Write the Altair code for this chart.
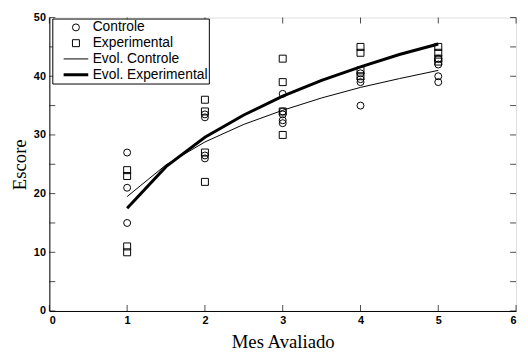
import altair as alt
import pandas as pd

# Controle (circles)
ctrl_mes = [1, 1, 1, 2, 2, 2, 2, 3, 3, 3, 3, 3, 4, 4, 4, 4, 5, 5, 5, 5]
ctrl_score = [27, 21, 15, 33.5, 33, 26.5, 26, 37, 34, 33.5, 32.5, 32,
              40.5, 39.5, 39, 35, 43, 42, 40, 39]
# Experimental (squares)
exp_mes = [1, 1, 1, 1, 2, 2, 2, 2, 3, 3, 3, 3, 4, 4, 4, 4, 5, 5, 5, 5]
exp_score = [24, 23, 11, 10, 36, 34, 27, 22, 43, 39, 34, 30,
             45, 44, 41, 40, 45, 44, 43, 42.5]
# fitted curves
curve_mes = [1, 1.5, 2, 2.5, 3, 3.5, 4, 4.5, 5]
evol_ctrl = [19.5, 24.9, 28.8, 31.8, 34.2, 36.3, 38.1, 39.6, 41.0]
evol_exp = [17.5, 24.6, 29.6, 33.4, 36.6, 39.3, 41.6, 43.7, 45.5]

x_ticks = [0, 1, 2, 3, 4, 5, 6]
y_ticks = [0, 5, 10, 15, 20, 25, 30, 35, 40, 45, 50]
series = ["Controle", "Experimental", "Evol. Controle", "Evol. Experimental"]

pts = pd.DataFrame({
    "mes": ctrl_mes + exp_mes,
    "escore": ctrl_score + exp_score,
    "serie": ["Controle"] * len(ctrl_mes) + ["Experimental"] * len(exp_mes),
})
lines = pd.DataFrame({
    "mes": curve_mes + curve_mes,
    "escore": evol_ctrl + evol_exp,
    "serie": ["Evol. Controle"] * len(curve_mes) + ["Evol. Experimental"] * len(curve_mes),
})

lab = dict(labelFont="Liberation Sans", labelFontWeight="bold", labelFontSize=11,
           labelColor="black", titleFont="Liberation Serif", titleFontWeight="normal",
           titleFontSize=19, titleColor="black", domainColor="black", ticks=False,
           grid=False, format="d")

xs = alt.X("mes:Q", scale=alt.Scale(domain=[0, 6], nice=False),
           axis=alt.Axis(values=x_ticks, title="Mes Avaliado", labelPadding=4,
                         titlePadding=7, **lab))
ys = alt.Y("escore:Q", scale=alt.Scale(domain=[0, 50], nice=False),
           axis=alt.Axis(values=y_ticks, title="Escore", labelPadding=4,
                         titlePadding=4, **lab))

shape_scale = alt.Scale(domain=series, range=["circle", "square", "stroke", "stroke"])
sw_scale = alt.Scale(type="ordinal", domain=series, range=[1, 1, 1, 3])
size_scale = alt.Scale(type="ordinal", domain=series, range=[50, 50, 625, 625])

legend = alt.Legend(title=None, orient="none", legendX=3, legendY=1,
                    strokeColor="black", fillColor="white", padding=1,
                    labelFont="Liberation Sans", labelFontSize=14, labelColor="black",
                    symbolStrokeColor="black", symbolType="circle",
                    rowPadding=0, clipHeight=16, columns=1,
                    symbolOffset=9, labelOffset=3, values=series)

points = alt.Chart(pts).mark_point(filled=False, color="black", opacity=1).encode(
    x=xs, y=ys,
    shape=alt.Shape("serie:N", scale=shape_scale, legend=legend),
    strokeWidth=alt.StrokeWidth("serie:N", scale=sw_scale, legend=legend),
    size=alt.Size("serie:N", scale=size_scale, legend=legend),
)

curves = alt.Chart(lines).mark_line(color="black").encode(
    x="mes:Q", y="escore:Q",
    strokeWidth=alt.StrokeWidth("serie:N", scale=sw_scale, legend=legend),
    detail="serie:N",
)

xt = pd.DataFrame({"t": x_ticks})
yt = pd.DataFrame({"t": y_ticks})
tick_b = alt.Chart(xt).mark_tick(orient="vertical", size=6, color="black", thickness=1, yOffset=-3).encode(
    x="t:Q", y=alt.datum(0))
tick_t = alt.Chart(xt).mark_tick(orient="vertical", size=6, color="black", thickness=1, yOffset=3).encode(
    x="t:Q", y=alt.datum(50))
tick_l = alt.Chart(yt).mark_tick(orient="horizontal", size=6, color="black", thickness=1, xOffset=3).encode(
    y="t:Q", x=alt.datum(0))
tick_r = alt.Chart(yt).mark_tick(orient="horizontal", size=6, color="black", thickness=1, xOffset=-3).encode(
    y="t:Q", x=alt.datum(6))

chart = alt.layer(curves, points, tick_b, tick_t, tick_l, tick_r).properties(
    width=474, height=298,
    autosize=alt.AutoSizeParams(type="none"),
    padding={"left": 42, "top": 7, "right": 4, "bottom": 43},
).configure_view(stroke="black", strokeWidth=1).configure(background="white")

chart.save("out.html", embed_options={"renderer": "svg", "actions": False})
